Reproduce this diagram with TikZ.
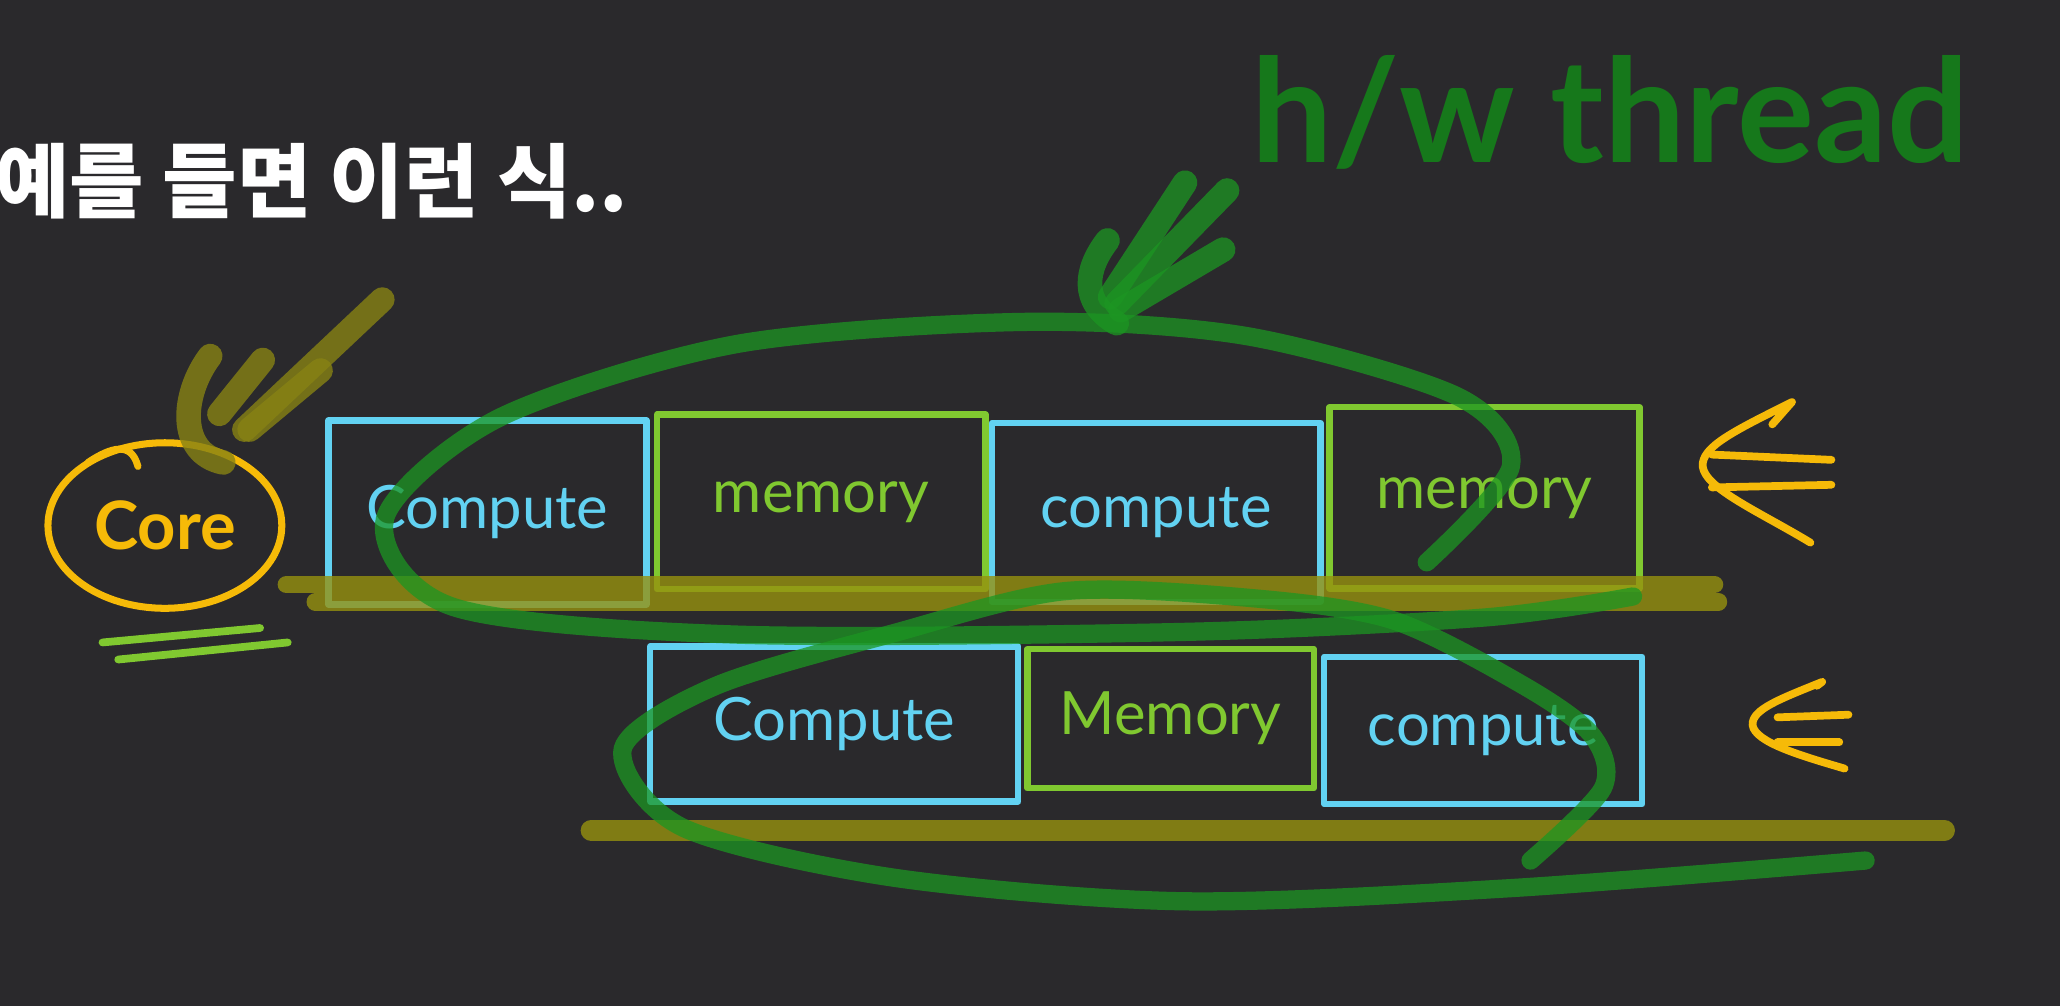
\documentclass[tikz,border=0pt]{standalone}
\usepackage{fontspec}
\setmainfont{Lato}
\newfontfamily\krfont{Noto Sans CJK KR}
\usetikzlibrary{positioning}
\usetikzlibrary{shapes.geometric}
\definecolor{bgdark}{RGB}{42,41,44}
\definecolor{compcol}{RGB}{98,210,242}
\definecolor{memcol}{RGB}{128,200,48}
\definecolor{corecol}{RGB}{246,186,8}
\definecolor{barcol}{RGB}{150,145,15}
\definecolor{threadcol}{RGB}{28,150,34}
\definecolor{markcol}{RGB}{135,130,20}
\def\px{0.013138cm}
\tikzset{
  box/.style 2 args={rectangle, inner sep=0pt, line width=1.8pt,
    minimum width=#1*\px, minimum height=#2*\px,
    font=\fontsize{17}{20}\selectfont},
  cbox/.style={draw=compcol, text=compcol},
  mbox/.style={draw=memcol, text=memcol},
  bar/.style={barcol, opacity=0.8, line width=5pt},
  thread/.style={threadcol, opacity=0.75, line width=5.2pt},
  pen/.style={corecol, line width=2.2pt}
}

\begin{document}
\begin{tikzpicture}[x=0.013138cm, y=-0.013138cm, line cap=round, line join=round]

    \path[fill=bgdark, use as bounding box] (0,0) rectangle (1568,766);
    \clip (0,0) rectangle (1568,766);

    % TITLE
    \node[anchor=west, inner sep=0pt, text=white,
          font=\krfont\bfseries\fontsize{23}{27}\selectfont] (title) at (-4,138) {예를 들면 이런 식..};
    \node[anchor=base west, inner sep=0pt, text=threadcol!80!black,
          font=\fontsize{41}{48}\selectfont\bfseries] (hw) at (952,124) {h/w thread};

    % CORE
    \node[ellipse, draw=corecol, line width=2pt, text=corecol, inner sep=0pt,
          minimum width=178*\px, minimum height=126*\px,
          font=\fontsize{19}{22}\selectfont\bfseries] (core) at (125.5,400) {Core};
    \draw[corecol, line width=2pt] (67,352) .. controls (85,340) and (100,336) .. (105,355);
    \draw[memcol, line width=2.2pt] (78,489) -- (198,478);
    \draw[memcol, line width=2.2pt] (90,502) -- (219,489);

    % BOXES, ROW 1
    \node[box={242}{140}, cbox] (c1) at (371,390) {Compute};
    \node[box={250}{133}, mbox] (m1) at (625,382) {memory};
    \node[box={250}{136}, cbox] (c2) at (880,390) {compute};
    \node[box={236}{138}, mbox] (m2) at (1130,379) {memory};

    % BOXES, ROW 2
    \node[box={280}{118}, cbox] (c3) at (635,551) {Compute};
    \node[box={218}{106}, mbox] (m3) at (891,547) {Memory};
    \node[box={242}{112}, cbox] (c4) at (1129,556) {compute};

    % BARS
    \draw[bar] (218,445) -- (1305,445);
    \draw[bar] (240,458) -- (1308,458);
    \draw[bar, line width=6pt] (450,632) -- (1480,632);

    % THREADS
    \draw[thread] plot[smooth] coordinates {(1086,428) (1150,355) (1110,302) (950,256)
        (780,245) (560,262) (380,318) (293,395) (345,462) (560,483) (900,481)
        (1130,470) (1243,454)};
    \draw[thread] plot[smooth] coordinates {(1165,655) (1220,600) (1212,560) (1160,522)
        (1060,472) (950,455) (810,450) (680,482) (545,522) (474,570) (520,630)
        (680,668) (900,686) (1150,676) (1420,655)};

    % MARKS
    \draw[markcol, opacity=0.8, line width=7pt] (291,228) -- (186,327);
    \draw[markcol, opacity=0.8, line width=7pt] (244,282) -- (190,327);
    \draw[markcol, opacity=0.8, line width=7pt] (200,274) -- (167,315);
    \draw[markcol, opacity=0.8, line width=7pt] (160,271) .. controls (138,300) and (135,345) .. (170,352);
    \draw[threadcol, opacity=0.75, line width=7pt] (902,139) -- (845,226);
    \draw[threadcol, opacity=0.75, line width=7pt] (934,145) -- (850,231);
    \draw[threadcol, opacity=0.75, line width=7pt] (931,190) -- (853,236);
    \draw[threadcol, opacity=0.75, line width=7pt] (843,183) .. controls (826,205) and (822,230) .. (850,246);

    % ROW ARROWS
    \draw[pen] (1349,323) -- (1364,306) .. controls (1320,328) and (1295,340) .. (1296,355)
        .. controls (1298,372) and (1340,390) .. (1378,413);
    \draw[pen] (1303,346) -- (1394,350);
    \draw[pen] (1303,371) -- (1394,369);
    \draw[pen] (1383,522) -- (1387,519) .. controls (1355,532) and (1333,540) .. (1334,552)
        .. controls (1336,565) and (1370,575) .. (1404,585);
    \draw[pen] (1353,546) -- (1407,544);
    \draw[pen] (1353,565) -- (1400,565);

\end{tikzpicture}
\end{document}
